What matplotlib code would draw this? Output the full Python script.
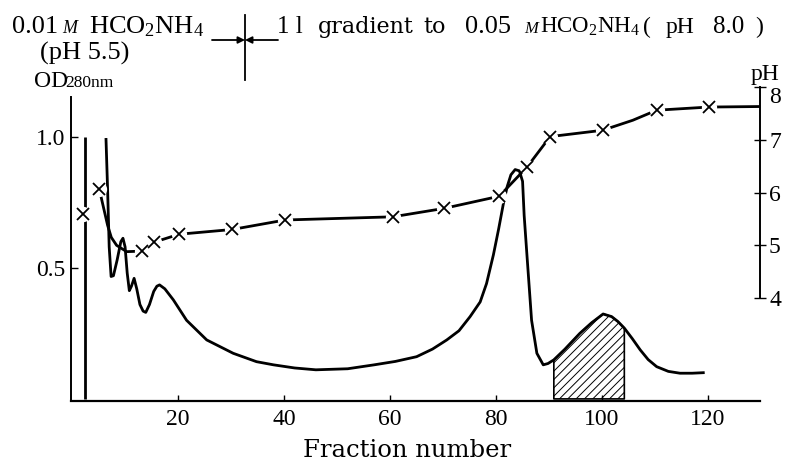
import matplotlib
matplotlib.use("Agg")
import matplotlib.pyplot as plt
import numpy as np

plt.rcParams['font.family'] = ['Liberation Serif', 'DejaVu Serif']
plt.rcParams['mathtext.fontset'] = 'custom'
plt.rcParams['mathtext.rm'] = 'Liberation Serif'
plt.rcParams['mathtext.it'] = 'Liberation Serif:italic'
plt.rcParams['hatch.linewidth'] = 0.7

# ---------------- data ----------------
# off-scale first OD spike
od_spike_x = [2.45, 2.45]
od_spike_y = [0.0, 1.0]

# main OD(280 nm) trace
od_x = [6.4, 6.7, 7.0, 7.36, 7.8, 8.5, 9.2, 9.6, 10.0, 10.4, 10.8, 11.2, 11.7, 12.2,
        12.8, 13.4, 13.9, 14.6, 15.4, 16.0, 16.5, 17.5, 19.1, 21.6, 25.4, 30.4, 34.8,
        38.0, 42.0, 46.0, 52.0, 57.0, 61.0, 65.0, 68.0, 70.7, 73.0, 75.1, 77.0, 78.2,
        79.5, 80.5, 81.4, 82.1, 82.8, 83.6, 84.4, 85.0, 85.3, 85.8, 86.7, 87.7, 88.9,
        89.8, 90.9, 93.0, 95.8, 98.0, 100.2, 101.8, 103.0, 104.2, 105.7, 107.2, 108.7,
        110.3, 112.5, 114.7, 117.0, 119.1]
od_y = [0.99, 0.80, 0.58, 0.467, 0.47, 0.53, 0.60, 0.613, 0.58, 0.48, 0.413, 0.43, 0.46, 0.42,
        0.36, 0.335, 0.33, 0.36, 0.41, 0.43, 0.435, 0.42, 0.378, 0.30, 0.225, 0.174, 0.142,
        0.13, 0.118, 0.111, 0.115, 0.13, 0.143, 0.161, 0.19, 0.225, 0.26, 0.314, 0.37, 0.44,
        0.55, 0.65, 0.747, 0.81, 0.855, 0.875, 0.87, 0.83, 0.70, 0.556, 0.30, 0.174, 0.13,
        0.135, 0.149, 0.19, 0.25, 0.29, 0.324, 0.314, 0.295, 0.27, 0.23, 0.187, 0.15,
        0.123, 0.105, 0.098, 0.098, 0.10]

# hatched pooled fractions
pool_start = 90.9
pool_end = 104.2

# pH trace
ph_x = [5.15, 5.6, 6.7, 7.4, 8.4, 10.3, 13.15, 15.5, 20.2, 30.2, 40.2, 60.5, 70.2,
        80.6, 85.9, 90.2, 100.1, 105.8, 110.3, 120.1, 129.8]
ph_y = [6.06, 5.86, 5.38, 5.15, 5.00, 4.88, 4.89, 5.06, 5.21, 5.30, 5.48, 5.54, 5.70,
        5.93, 6.49, 7.06, 7.18, 7.37, 7.56, 7.62, 7.63]
# measured pH points (crosses)
ph_mark_x = [2.0, 5.15, 13.15, 15.5, 20.2, 30.2, 40.2, 60.5, 70.2, 80.6, 85.9, 90.2,
             100.1, 110.3, 120.1]
ph_mark_y = [5.59, 6.06, 4.89, 5.06, 5.21, 5.30, 5.48, 5.54, 5.70, 5.93, 6.49, 7.06,
             7.18, 7.56, 7.62]

x_ticks = [20, 40, 60, 80, 100, 120]
od_ticks = [0.5, 1.0]
od_ticklabels = ["0.5", "1.0"]
ph_ticks = [4, 5, 6, 7, 8]

# ---------------- figure ----------------
W, H = 788, 461
fig = plt.figure(figsize=(W / 100, H / 100), dpi=100)
ax_l, ax_r, ax_b, ax_t = 70.5, 760, 401, 87
ax = fig.add_axes([ax_l / W, (H - ax_b) / H, (ax_r - ax_l) / W, (ax_b - ax_t) / H])
ax2 = ax.twinx()

ax.set_xlim(-0.3, 129.8)
ax.set_ylim(-0.008, 1.19)
ax2.set_ylim(2.05, 8.0)

# OD traces
ax.plot(od_spike_x, od_spike_y, color='black', lw=2.0, solid_capstyle='butt')
odx = np.array(od_x)
ody = np.array(od_y)
ax.plot(odx, ody, color='black', lw=2.0, solid_joinstyle='round')
mask = (odx >= pool_start) & (odx <= pool_end)
ax.fill_between(odx[mask], 0, ody[mask], facecolor='white', edgecolor='black',
                hatch='////', linewidth=1.2, zorder=1)

# pH trace with gaps around crosses
ax2.plot(ph_x, ph_y, color='black', lw=2.0, zorder=2)
ax2.plot(ph_mark_x, ph_mark_y, linestyle='none', marker='o', ms=11,
         markerfacecolor='white', markeredgecolor='none', zorder=3)
ax2.plot(ph_mark_x, ph_mark_y, linestyle='none', marker='x', ms=9, mew=1.3,
         color='black', zorder=4)

# spines
for a in (ax, ax2):
    a.spines['top'].set_visible(False)
ax.spines['right'].set_visible(False)
ax2.spines['left'].set_visible(False)
ax2.spines['bottom'].set_visible(False)
ax.spines['left'].set_bounds(-0.008, 1.15)
ax.spines['left'].set_linewidth(1.4)
ax.spines['bottom'].set_linewidth(1.6)
ax2.spines['right'].set_bounds(4, 8)
ax2.spines['right'].set_linewidth(1.4)

ax.set_xticks(x_ticks)
ax.set_xticklabels([str(t) for t in x_ticks])
ax.set_yticks(od_ticks)
ax.set_yticklabels(od_ticklabels)
ax2.set_yticks(ph_ticks)
ax2.set_yticklabels([str(t) for t in ph_ticks])

ax.tick_params(axis='x', direction='in', length=4, width=1, labelsize=17, pad=6)
ax.tick_params(axis='y', direction='in', length=5, width=1, labelsize=17, pad=4)
ax2.tick_params(axis='y', direction='inout', length=9, width=1, labelsize=17, pad=2)
# top pH label sits slightly below its tick, as in the reference
ax2.get_yticklabels()[-1].set_va('top')
ax2.get_yticklabels()[-1].set_y(8.07)

# ---------------- annotations ----------------
WORD = ['DejaVu Serif']
NUM = ['Liberation Serif', 'DejaVu Serif']

def fx(px):
    return px / W

def fy(py):
    return 1 - py / H

def txt(px, py, s, size, fam=NUM, **kw):
    fig.text(fx(px), fy(py), s, fontsize=size, ha='left', va='baseline',
             family=fam, **kw)

txt(12, 33, "0.01", 19)
txt(62, 33, "M", 13, style='italic')
txt(89, 33, "HCO$_2$NH$_4$", 19)
txt(40, 60, "(pH 5.5)", 19)
txt(34, 87, "OD", 17)
txt(65, 87, "280nm", 12.5)

txt(277, 33, "1 l", 18)
txt(318, 33, "gradient", 16, fam=WORD)
txt(423, 33, "to", 16, fam=WORD)
txt(465, 33, "0.05", 19)
txt(524, 33, "M", 12, style='italic')
txt(540, 33, "HCO$_2$NH$_4$", 16.5)
txt(643, 33, "(", 17)
txt(666, 33, "pH", 17)
txt(713, 33, "8.0", 18)
txt(755, 33, ")", 17)

txt(751, 80, "pH", 17)

fig.text(fx(407), fy(457), "Fraction number", fontsize=17.5, ha='center',
         va='baseline', family=WORD)

# buffer-change marker with arrows
fig.add_artist(plt.Line2D([fx(245), fx(245)], [fy(15), fy(80)], color='black', lw=1.3,
                          transform=fig.transFigure))
arrow_kw = dict(arrowstyle='-|>', color='black', lw=1.3, mutation_scale=10)
fig.patches.append(matplotlib.patches.FancyArrowPatch((fx(212), fy(40)), (fx(245), fy(40)),
                   transform=fig.transFigure, shrinkA=0, shrinkB=0, **arrow_kw))
fig.patches.append(matplotlib.patches.FancyArrowPatch((fx(278), fy(40)), (fx(245), fy(40)),
                   transform=fig.transFigure, shrinkA=0, shrinkB=0, **arrow_kw))

fig.savefig("out.png", dpi=100)
